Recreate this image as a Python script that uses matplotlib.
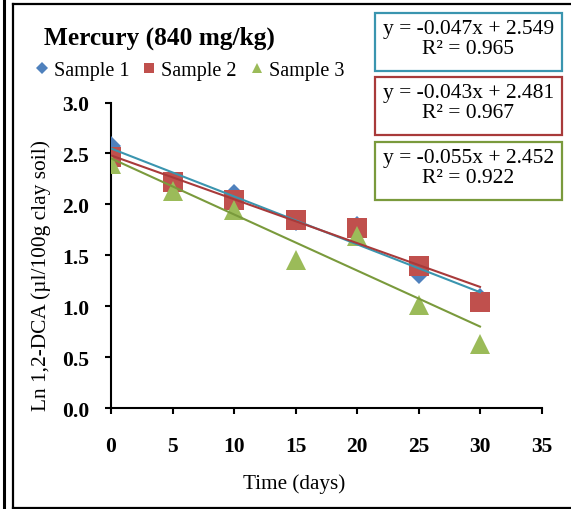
import matplotlib
matplotlib.use("Agg")
import matplotlib.pyplot as plt
from matplotlib.lines import Line2D
from matplotlib.patches import Rectangle
import numpy as np

plt.rcParams['font.family'] = ['Liberation Serif', 'DejaVu Serif']

# data
days = [0, 5, 10, 15, 20, 25, 30]
sample1 = [2.57, 2.21, 2.10, 1.84, 1.79, 1.32, 1.08]
sample2 = [2.47, 2.22, 2.04, 1.85, 1.77, 1.40, 1.045]
sample3 = [2.40, 2.13, 1.95, 1.45, 1.69, 1.01, 0.63]
labels = ['Sample 1', 'Sample 2', 'Sample 3']

# trendline coefficients as printed
slopes = [-0.047, -0.043, -0.055]
intercepts = [2.549, 2.481, 2.452]
r2 = [0.965, 0.967, 0.922]

marker_colors = ['#4F81BD', '#C0504D', '#9BBB59']
line_colors = ['#3A95AF', '#A83A3A', '#7A9A3C']
markers = ['D', 's', '^']
msizes = [10.2, 13.7, 14.4]

W, H = 571, 510
fig = plt.figure(figsize=(W / 100, H / 100), dpi=100)

def fx(px):
    return px / W

def fy(py):
    return 1 - py / H

ax = fig.add_axes([fx(111), fy(409.3), fx(541.5) - fx(111), fy(103.5) - fy(409.3)])

series = [sample1, sample2, sample3]
for i, ys in enumerate(series):
    ax.plot(days, ys, linestyle='none', marker=markers[i], markersize=msizes[i],
            color=marker_colors[i], markeredgewidth=0, zorder=3)

xt = np.array([days[0], days[-1]])
for i in range(3):
    ax.plot(xt, slopes[i] * xt + intercepts[i], color=line_colors[i], lw=1.5, zorder=4)

ax.set_xlim(0, 35)
ax.set_ylim(0, 3.0)
ax.set_xticks(range(0, 36, 5))
ax.set_yticks(np.arange(0, 3.01, 0.5))
ax.set_yticklabels(['%.1f' % v for v in np.arange(0, 3.01, 0.5)])
for s in ['top', 'right']:
    ax.spines[s].set_visible(False)
for s in ['left', 'bottom']:
    ax.spines[s].set_linewidth(1.5)
ax.tick_params(axis='both', direction='out', length=4.3, width=1.5, labelsize=15.5)
ax.tick_params(axis='y', pad=11.5)
ax.tick_params(axis='x', pad=15.5)
for t in ax.get_xticklabels() + ax.get_yticklabels():
    t.set_fontweight('bold')

fig.text(fx(294), fy(484), 'Time (days)', ha='center', va='center', fontsize=15.2)
fig.text(fx(41), fy(276), 'Ln 1,2-DCA (µl/100g clay soil)', ha='center', va='center',
         rotation=90, fontsize=15.4)

fig.text(fx(44), fy(45), 'Mercury (840 mg/kg)', ha='left', va='baseline',
         fontsize=18.3, fontweight='bold')

handles = [Line2D([], [], linestyle='none', marker=markers[i], color=marker_colors[i],
                  markeredgewidth=0, markersize=[6.0, 7.4, 7.8][i]) for i in range(3)]
fig.legend(handles, labels, loc='center left', bbox_to_anchor=(fx(33.5), fy(71.5)),
           ncol=3, frameon=False, fontsize=14.5, handlelength=0.8, handletextpad=0.2,
           columnspacing=0.6, borderpad=0, borderaxespad=0)

# equation boxes
box_tops = [14, 78, 143]
box_h = 58
for i in range(3):
    top = box_tops[i]
    fig.patches.append(Rectangle((fx(375), fy(top + box_h)), fx(562) - fx(375),
                                 fy(top) - fy(top + box_h), transform=fig.transFigure,
                                 fill=False, edgecolor=line_colors[i], linewidth=1.6))
    fig.text(fx(468.5), fy(top + 20), 'y = %.3fx + %.3f' % (slopes[i], intercepts[i]),
             ha='center', va='baseline', fontsize=15.5)
    fig.text(fx(468.5), fy(top + 40), 'R² = %.3f' % r2[i],
             ha='center', va='baseline', fontsize=15.5)

# outer frame lines
fig.add_artist(Line2D([fx(3.5), fx(3.5)], [0, 1], transform=fig.transFigure,
                      color='black', lw=2.2))
fig.add_artist(Line2D([fx(12.5), fx(12.5)], [fy(508.5), fy(4.5)], transform=fig.transFigure,
                      color='black', lw=1.6))
fig.add_artist(Line2D([fx(12.5), 1], [fy(5), fy(5)], transform=fig.transFigure,
                      color='black', lw=1.6))
fig.add_artist(Line2D([fx(12.5), 1], [fy(508.5), fy(508.5)], transform=fig.transFigure,
                      color='black', lw=1.6))

fig.savefig('out.png', dpi=100)
